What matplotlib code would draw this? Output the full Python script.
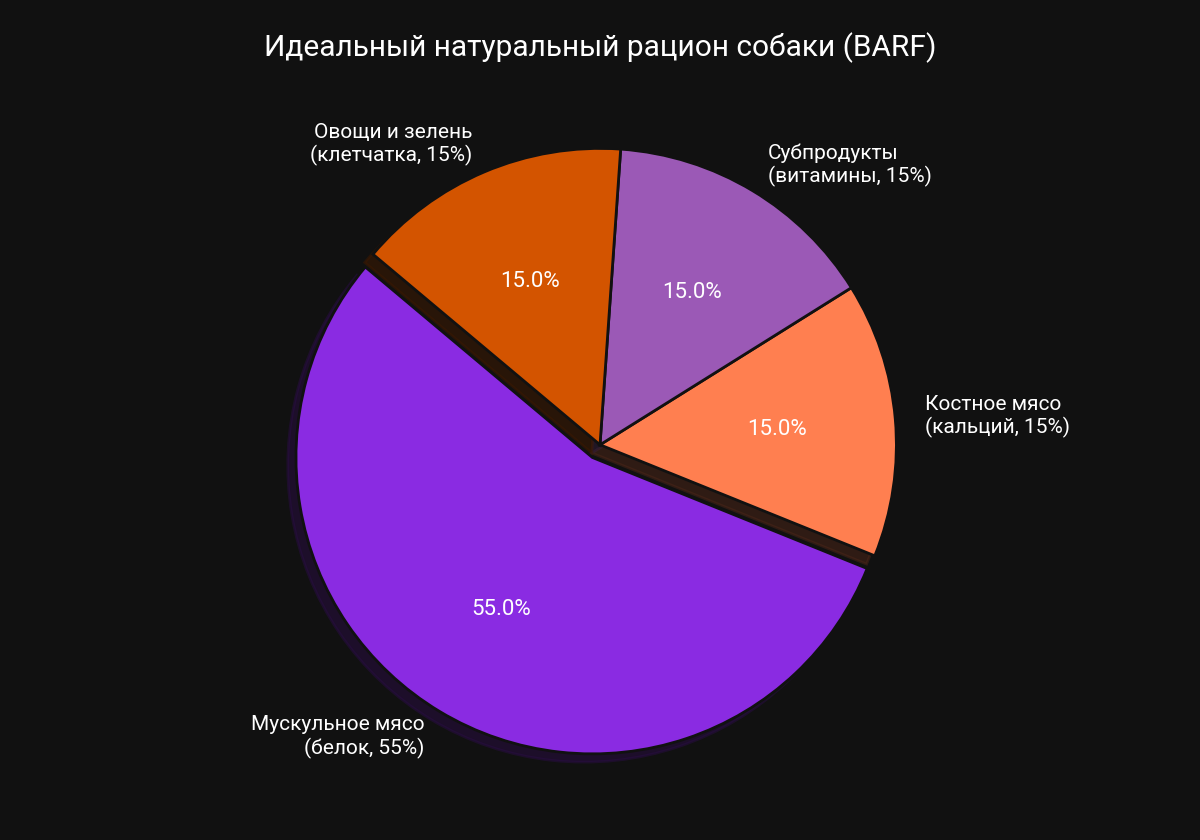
import matplotlib.pyplot as plt

plt.rcParams['font.family'] = ['Roboto', 'DejaVu Sans']

labels = ['Мускульное мясо\n(белок, 55%)', 'Костное мясо\n(кальций, 15%)',
          'Субпродукты\n(витамины, 15%)', 'Овощи и зелень\n(клетчатка, 15%)']
shares = [55, 15, 15, 15]
colors = ['#8A2BE2', '#FF7F50', '#9B59B6', '#D35400']
explode = [0.05, 0, 0, 0]

bg = '#111111'
fig = plt.figure(figsize=(12, 8.4), dpi=100, facecolor=bg)
ax = fig.add_axes([0.1925, 0.031, 0.615, 0.879])
ax.set_facecolor(bg)

wedges, texts, autotexts = ax.pie(
    shares, labels=labels, colors=colors, explode=explode,
    autopct='%1.1f%%', startangle=140, shadow=True,
    wedgeprops={'edgecolor': bg, 'linewidth': 2},
    textprops={'color': 'white', 'fontsize': 15},
)
for t in autotexts:
    t.set_fontsize(16)
    t.set_color('white')

ax.set_xlim(-1.245, 1.245)
ax.set_ylim(-1.245, 1.245)
ax.set_aspect('equal')
ax.axis('off')

fig.suptitle('Идеальный натуральный рацион собаки (BARF)', color='white',
             fontsize=21.5, y=0.962)

fig.savefig('out.png', dpi=100, facecolor=bg)
